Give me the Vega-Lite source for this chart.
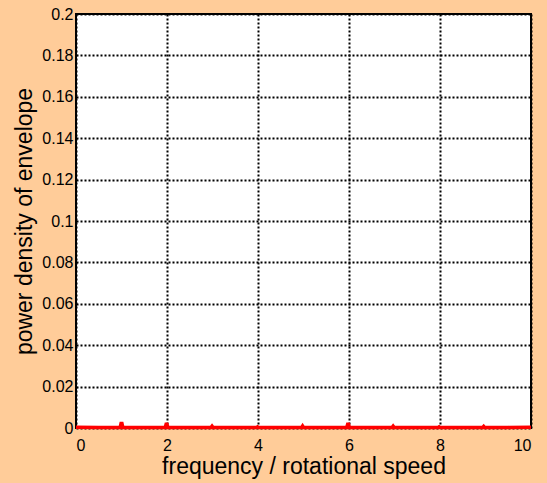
{
  "$schema": "https://vega.github.io/schema/vega-lite/v6.json",
  "width": 455,
  "height": 414,
  "autosize": {"type": "none"},
  "padding": {"left": 76, "top": 14, "right": 16, "bottom": 55},
  "background": "#FFCC99",
  "config": {
    "view": {"stroke": "black", "strokeWidth": 2, "fill": "white"},
    "font": "Liberation Sans",
    "axis": {
      "domain": false,
      "ticks": false,
      "grid": true,
      "gridColor": "black",
      "gridOpacity": 1,
      "gridDash": [2, 2],
      "gridWidth": 2,
      "labelFont": "Liberation Sans",
      "labelFontSize": 16,
      "labelColor": "black",
      "titleFont": "Liberation Sans",
      "titleFontSize": 23,
      "titleFontWeight": "normal",
      "titleColor": "black"
    }
  },
  "data": {
    "values": [
      {"f": 0, "p": 0.0004},
      {"f": 0.5, "p": 0.0003},
      {"f": 0.97, "p": 0.0003},
      {"f": 0.99, "p": 0.0022},
      {"f": 1.01, "p": 0.0022},
      {"f": 1.03, "p": 0.0003},
      {"f": 1.5, "p": 0.0003},
      {"f": 1.96, "p": 0.0003},
      {"f": 1.98, "p": 0.0018},
      {"f": 2.0, "p": 0.0018},
      {"f": 2.02, "p": 0.0003},
      {"f": 2.5, "p": 0.0003},
      {"f": 2.97, "p": 0.0003},
      {"f": 2.99, "p": 0.0009},
      {"f": 3.01, "p": 0.0003},
      {"f": 3.5, "p": 0.0003},
      {"f": 3.97, "p": 0.0003},
      {"f": 3.99, "p": 0.0006},
      {"f": 4.01, "p": 0.0003},
      {"f": 4.5, "p": 0.0003},
      {"f": 4.96, "p": 0.0003},
      {"f": 4.98, "p": 0.001},
      {"f": 5.0, "p": 0.0003},
      {"f": 5.5, "p": 0.0003},
      {"f": 5.95, "p": 0.0003},
      {"f": 5.97, "p": 0.0018},
      {"f": 5.99, "p": 0.0018},
      {"f": 6.01, "p": 0.0003},
      {"f": 6.5, "p": 0.0003},
      {"f": 6.95, "p": 0.0003},
      {"f": 6.97, "p": 0.0009},
      {"f": 6.99, "p": 0.0003},
      {"f": 7.5, "p": 0.0003},
      {"f": 7.96, "p": 0.0003},
      {"f": 7.98, "p": 0.0006},
      {"f": 8.0, "p": 0.0003},
      {"f": 8.5, "p": 0.0003},
      {"f": 8.94, "p": 0.0003},
      {"f": 8.96, "p": 0.0008},
      {"f": 8.98, "p": 0.0003},
      {"f": 9.5, "p": 0.0003},
      {"f": 10, "p": 0.0004}
    ]
  },
  "mark": {"type": "line", "color": "#FF0000", "strokeWidth": 3.5, "clip": false},
  "encoding": {
    "x": {
      "field": "f",
      "type": "quantitative",
      "scale": {"domain": [0, 10], "nice": false},
      "axis": {
        "values": [0, 2, 4, 6, 8, 10],
        "labelExpr": "'' + datum.value",
        "labelPadding": 9,
        "title": "frequency / rotational speed",
        "titlePadding": 2
      }
    },
    "y": {
      "field": "p",
      "type": "quantitative",
      "scale": {"domain": [0, 0.2], "nice": false},
      "axis": {
        "values": [0, 0.02, 0.04, 0.06, 0.08, 0.1, 0.12, 0.14, 0.16, 0.18, 0.2],
        "labelExpr": "'' + datum.value",
        "labelPadding": 3,
        "title": "power density of envelope",
        "titlePadding": 5
      }
    }
  }
}
